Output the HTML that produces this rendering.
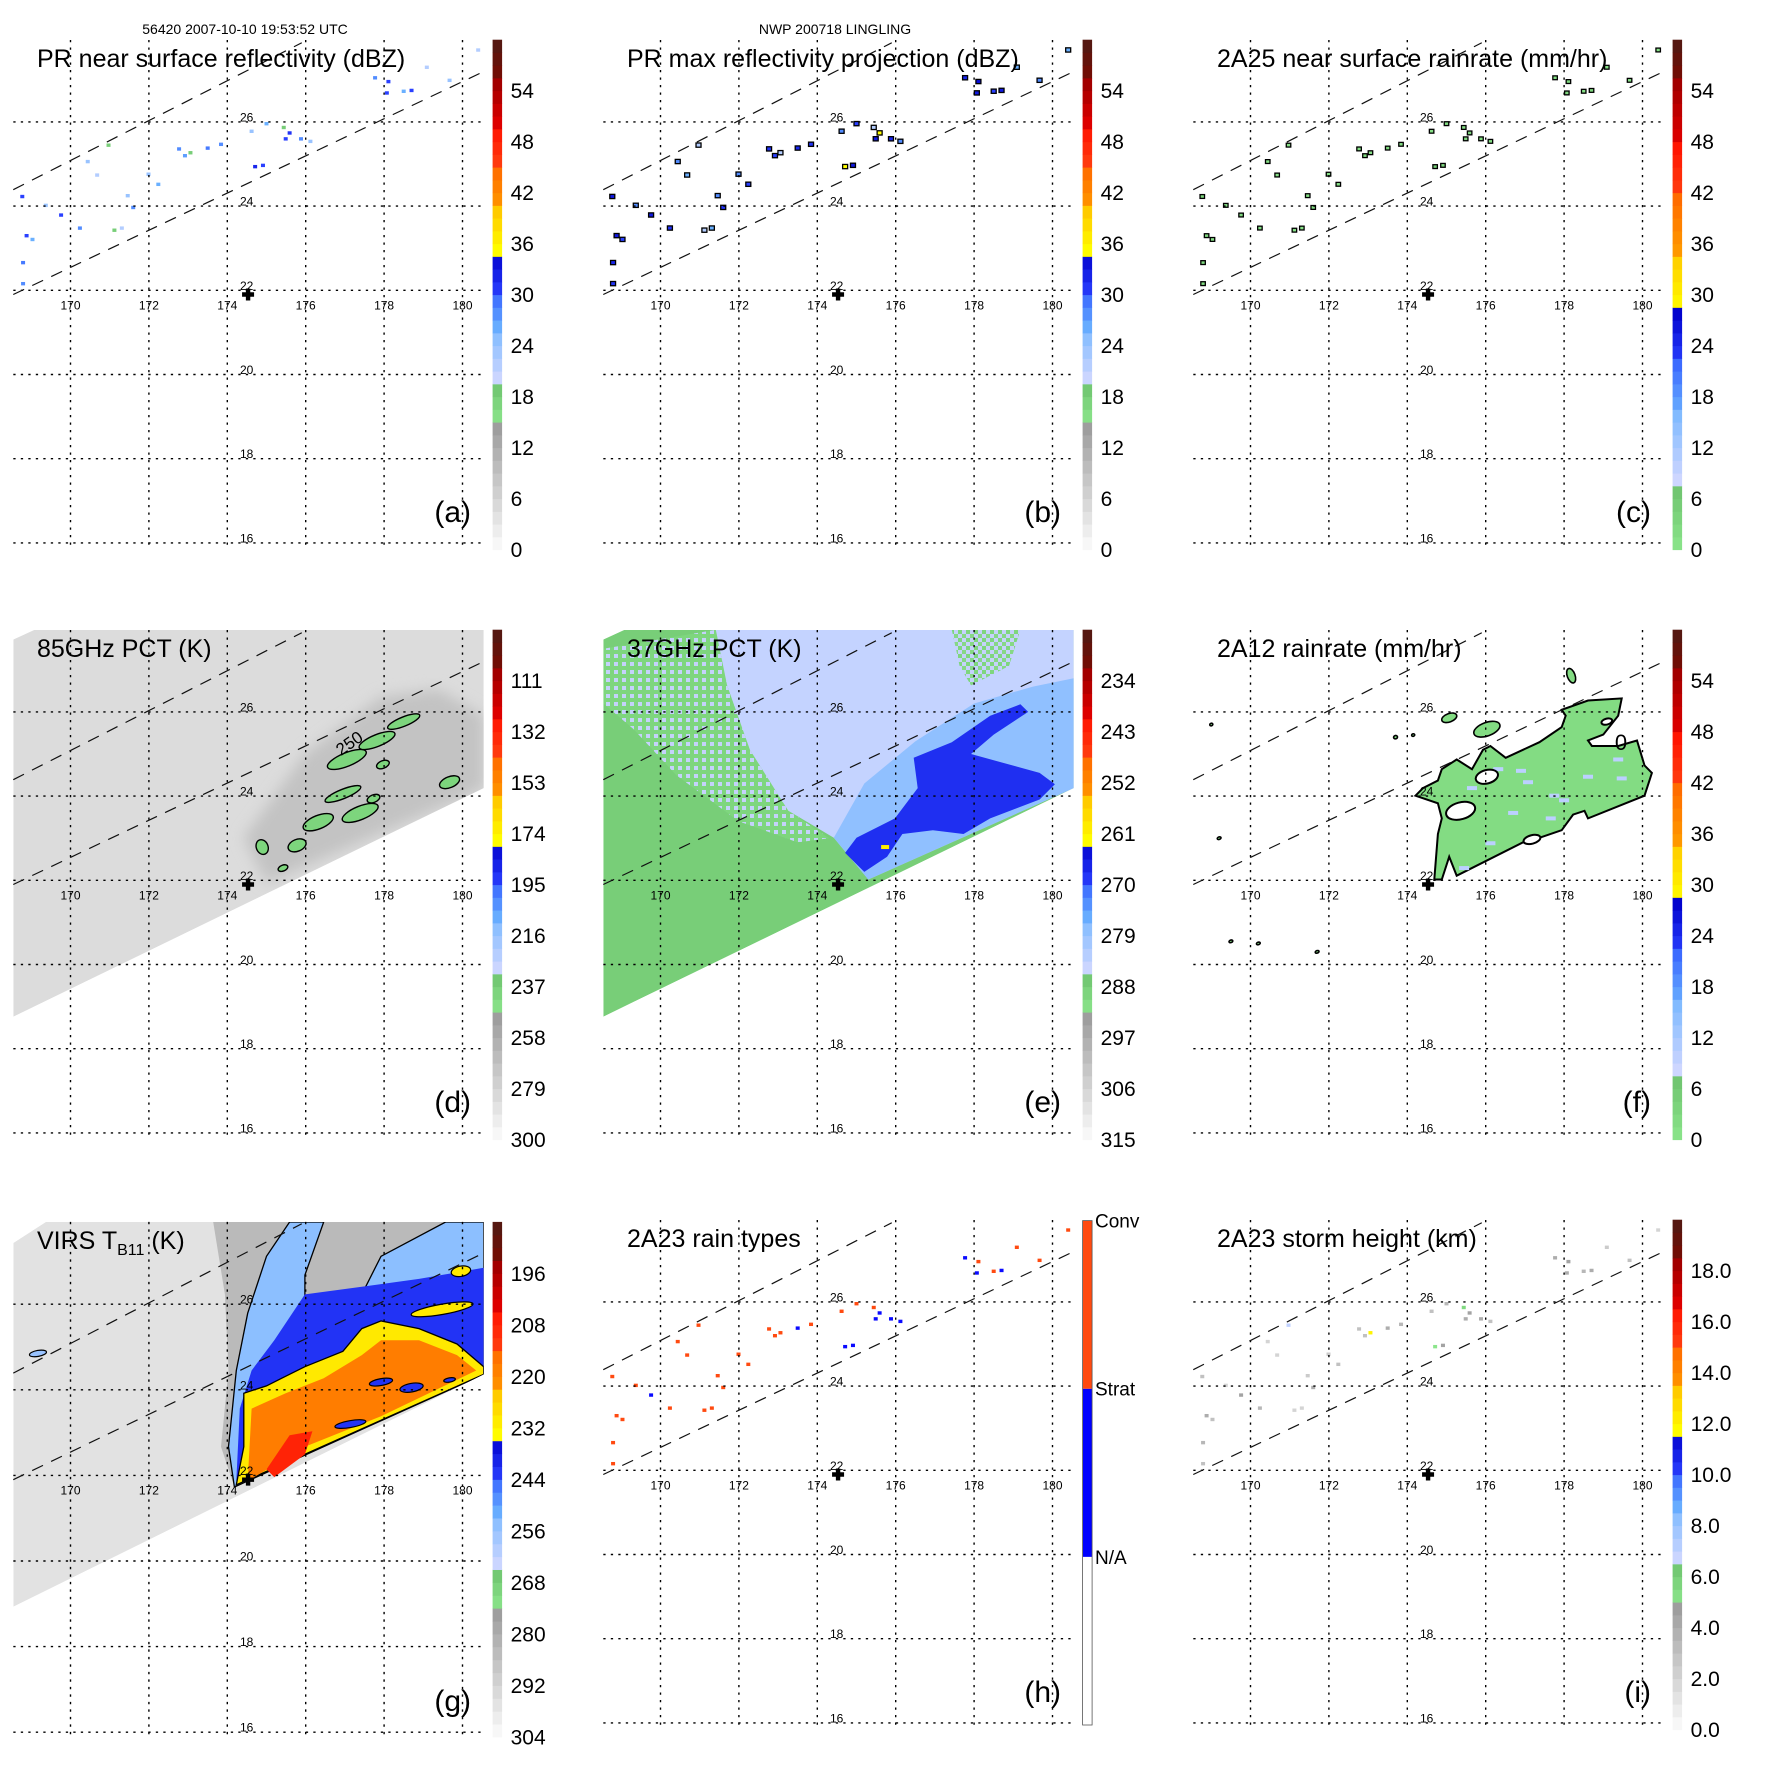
<!DOCTYPE html>
<html><head><meta charset="utf-8">
<style>
html,body{margin:0;padding:0;background:#fff;}
svg{display:block;font-family:"Liberation Sans",Arial,sans-serif;}
</style></head>
<body>
<svg id="fig" xmlns="http://www.w3.org/2000/svg" width="1771" height="1771" viewBox="0 0 1771 1771">
<defs>
<pattern id="mixE" width="8" height="8" patternUnits="userSpaceOnUse">
<rect width="8" height="8" fill="#c4d2fb"/><rect width="4" height="4" fill="#7ed67e"/><rect x="4" y="4" width="4" height="4" fill="#86d886"/>
</pattern>
<pattern id="mixE2" width="8" height="8" patternUnits="userSpaceOnUse">
<rect width="8" height="8" fill="#7ed67e"/><rect width="4" height="4" fill="#c4d2fb"/>
</pattern>
<filter id="soft"><feGaussianBlur stdDeviation="7"/></filter>
</defs>
</svg>
<script>
// ---------------- data ----------------
const ptLon = [177.77,178.11,178.07,178.50,178.70,179.67,179.09,180.40,175.00,174.62,175.59,175.88,176.12,175.49,174.71,174.91,173.50,173.84,172.77,172.92,173.06,172.24,171.99,171.60,169.76,170.24,168.88,169.03,168.77,168.79,168.79,170.44,171.46,170.68,169.37,171.12,171.31,175.44,170.97];
const ptLat = [27.04,26.95,26.68,26.72,26.74,26.98,27.29,27.70,25.95,25.77,25.73,25.59,25.53,25.59,24.93,24.96,25.37,25.46,25.35,25.19,25.26,24.51,24.75,23.96,23.78,23.47,23.29,23.20,24.22,22.65,22.15,25.05,24.24,24.73,24.01,23.42,23.47,25.86,25.44];
const reflNear = [28,30,30,26,30,24,22,22,26,24,31,28,24,30,32,30,29,28,28,27,18,26,24,28,30,28,30,26,30,29,28,24,24,22,24,18,22,18,18];
const reflMax = [32,34,33,30,33,28,26,26,30,28,35,32,28,33,35,33,32,31,31,30,22,30,28,31,33,31,33,30,33,32,31,28,28,26,28,22,26,22,22];
const rainPR = [2,3,3,1,3,1,1,1,2,1,4,2,1,3,5,3,3,2,2,2,1,1,1,2,3,2,3,1,3,3,2,1,1,1,1,1,1,1,1];
const rainType = [1,2,1,2,1,2,2,2,2,2,1,1,1,1,1,1,1,2,2,2,2,2,2,2,1,2,2,2,2,2,2,2,2,2,2,2,2,2,2];
const stormHt = [4,4.5,4,3.5,4,3,2.5,2,3.5,3,4.5,4,3,4,5,4.5,4,3.5,3,3,12,3,2.5,4,4.5,3.5,4,3,3,3.5,3,2,2.5,2,2,2,2,5.5,7];

const centerLon = 174.53, centerLat = 21.9;
const prEdgeUpper = [[168.54,24.39],[175.9,27.88]];
const prEdgeLower = [[168.54,21.9],[180.55,27.2]];
const gridLons = [170,172,174,176,178,180];
const gridLats = [26,24,22,20,18,16];

// TMI swath
const tmiSwath = [[168.54,27.72],[169.08,27.95],[180.54,27.95],[180.54,24.19],[168.54,18.76]];
// 85 GHz
const pct85Base = 283, pct85Core = 270, pct85Blob = 240;
const pct85CoreArea = [[174.42,23.01],[175.98,25.0],[177.92,26.36],[179.38,26.54],[180.54,25.91],[180.54,24.19],[175.0,21.93]];
const blobLon = [177.05,177.82,178.50,177.97,179.67,176.95,177.73,177.39,176.32,175.78,174.89,175.42];
const blobLat = [24.87,25.32,25.77,24.75,24.33,24.05,23.94,23.60,23.38,22.83,22.79,22.29];
const blobRx = [.53,.49,.44,.17,.27,.49,.17,.49,.41,.24,.15,.13];
const blobRy = [.16,.14,.11,.09,.13,.11,.09,.16,.16,.14,.18,.07];
// 37 GHz
const pct37Vals = [288, 284, 278, 268, 258];
const e_mixed = [[168.54,27.5],[171.41,27.95],[171.70,26.63],[172.28,25.10],[173.26,23.65],[174.3,23.0],[173.5,22.9],[172.0,23.4],[170.4,24.5],[169.3,25.6],[168.54,26.2]];
const e_light = [[171.41,27.95],[171.70,26.63],[172.28,25.10],[173.26,23.65],[174.42,23.01],[175.30,22.02],[180.54,24.19],[180.54,27.95]];
const e_mixed2 = [[177.43,27.95],[179.18,27.95],[178.89,27.09],[177.92,26.63],[177.63,27.09]];
const e_medium = [[174.42,23.01],[175.2,24.3],[176.5,25.3],[178.0,26.2],[179.5,26.6],[180.54,26.8],[180.54,24.19],[175.30,22.02]];
const e_dark = [[176.46,24.91],[177.43,25.28],[178.41,25.91],[179.18,26.18],[179.38,26.0],[178.50,25.46],[177.92,25.0],[179.67,24.55],[180.06,24.28],[179.67,23.92],[178.41,23.47],[177.73,23.10],[176.95,23.19],[176.17,23.10],[175.78,22.56],[175.20,22.20],[174.71,22.65],[175.00,23.01],[175.98,23.47],[176.56,24.19]];
const e_hot = [175.73,22.79];
// 2A12
const f_area = [[174.69,22.02],[174.78,23.10],[174.88,23.47],[174.78,23.83],[174.21,24.01],[174.40,24.19],[174.78,24.37],[174.88,24.64],[175.26,24.87],[175.65,24.64],[175.93,25.10],[176.12,25.19],[176.51,24.91],[177.37,25.28],[177.94,25.64],[178.04,25.91],[177.94,26.05],[178.61,26.27],[179.47,26.32],[179.38,25.91],[179.00,25.46],[178.61,25.32],[178.71,25.19],[179.38,25.19],[179.86,25.32],[180.05,24.73],[180.24,24.55],[180.05,24.01],[178.61,23.47],[178.52,23.65],[178.23,23.56],[177.94,23.19],[177.37,23.01],[176.99,22.92],[175.26,22.11],[175.07,22.56],[174.88,22.02]];
const f_holeLon = [176.03,175.36,179.09,177.18];
const f_holeLat = [24.46,23.65,25.77,22.97];
const f_holeRx = [.29,.38,.14,.22];
const f_holeRy = [.16,.2,.07,.1];
const f_isleLon = [175.07,176.03,178.18,169.0,173.7,174.15,169.2,170.2,171.7,169.5];
const f_isleLat = [25.86,25.59,26.86,25.7,25.4,25.45,23.0,20.5,20.3,20.55];
const f_isleRx = [.2,.35,.1,.04,.05,.04,.05,.05,.05,.05];
const f_isleRy = [.1,.16,.18,.03,.04,.03,.03,.03,.03,.03];
const f_rainBase = 2, f_rainSpot = 10;
const f_spotLon = [175.65,176.32,177.08,177.75,176.70,176.12,175.45,179.38,178.61,179.47,177.66,176.9,178.0];
const f_spotLat = [24.19,24.64,24.33,24.01,23.60,22.88,22.29,24.87,24.46,24.42,23.47,24.6,23.9];
// VIRS
const virsSwath = [[168.54,27.43],[169.37,27.92],[180.54,27.92],[180.54,24.36],[168.54,18.93]];
const virsVals = [296, 284, 254, 242, 230, 218, 208];
const g_cloud = [[173.64,27.92],[180.54,27.92],[180.54,24.36],[174.18,21.73],[173.84,22.67],[174.03,24.45],[173.94,26.23]];
const g_edge = [[174.23,24.45],[174.52,25.79],[175.0,27.12],[175.59,27.92],[176.46,27.92],[175.98,26.68],[175.98,25.88],[177.43,26.23],[177.92,27.12],[179.57,27.92],[180.54,27.92],[180.54,24.36],[174.18,21.73],[174.03,22.67]];
const g_blue = [[174.32,23.56],[174.62,24.45],[175.20,25.16],[175.98,26.23],[177.43,26.41],[178.89,26.59],[180.54,26.85],[180.54,24.36],[174.23,21.87]];
const g_yellow = [[174.42,23.92],[175.00,24.09],[175.39,24.27],[175.98,24.54],[176.95,24.90],[177.43,25.43],[177.92,25.61],[178.89,25.43],[179.86,25.07],[180.54,24.54],[180.54,24.36],[174.23,21.78],[174.42,22.67]];
const g_orange = [[174.62,23.56],[175.49,23.92],[176.46,24.27],[177.43,24.81],[177.92,25.16],[178.89,25.16],[179.86,24.81],[180.35,24.45],[177.92,23.38],[175.98,22.67],[174.52,21.87]];
const g_red = [[175.00,22.14],[175.59,22.94],[176.17,23.03],[175.98,22.49],[175.20,21.96]];
const g_spotLon = [177.92,178.70,177.14,179.67,179.48,179.96,169.17];
const g_spotLat = [24.18,24.05,23.20,24.23,25.88,26.77,24.85];
const g_spotVal = [242,242,242,242,230,230,256];
const g_spotRx = [.3,.3,.4,.15,.8,.25,.22];
const g_spotRy = [.08,.1,.08,.05,.12,.12,.07];

// colorbar labels
const lblA = ["0","6","12","18","24","30","36","42","48","54"];
const lblD = ["300","279","258","237","216","195","174","153","132","111"];
const lblE = ["315","306","297","288","279","270","261","252","243","234"];
const lblG = ["304","292","280","268","256","244","232","220","208","196"];
const lblI = ["0.0","2.0","4.0","6.0","8.0","10.0","12.0","14.0","16.0","18.0"];
const typeLabels = ["N/A","Strat","Conv"];

// ---------------- palettes ----------------
const PAL_A = [[0,15,'#fcfcfc','#999999'],[15,20,'#8be58b','#6bbf6b'],[20,26,'#cdd6ff','#7fbaff'],[26,30,'#6ab0ff','#3a68ff'],[30,35,'#2a40ff','#0000cc'],[35,40,'#ffff00','#ffc800'],[40,45,'#ff9a00','#ff6a00'],[45,50,'#ff4010','#ff1000'],[50,55,'#e00000','#a00000'],[55,60,'#7a0a00','#501a14']];
const PAL_C = [[0,8.2,'#8be58b','#6bbf6b'],[8.2,16,'#cdd6ff','#7fbaff'],[16,22,'#6ab0ff','#3a68ff'],[22,28,'#2a40ff','#0000cc'],[28,35,'#ffff00','#ffc800'],[35,41.5,'#ff9a00','#ff6a00'],[41.5,48,'#ff4010','#ff1000'],[48,55,'#e00000','#a00000'],[55,60,'#7a0a00','#501a14']];
function hx(c){return [parseInt(c.substr(1,2),16),parseInt(c.substr(3,2),16),parseInt(c.substr(5,2),16)];}
function pal(P,u){
  u=Math.max(0,Math.min(59.99,u));
  for(const s of P){ if(u>=s[0]&&u<s[1]){const t=(u-s[0])/(s[1]-s[0]);const a=hx(s[2]),b=hx(s[3]);
    return 'rgb('+a.map((v,i)=>Math.round(v+(b[i]-v)*t)).join(',')+')';}}
  return '#fff';
}
const uD=v=>(300-v)*6/21, uE=v=>(315-v)*6/9, uG=v=>(304-v)/2;

// ---------------- helpers ----------------
const NS='http://www.w3.org/2000/svg';
const svg=document.getElementById('fig');
function mk(tag,attrs,parent){const e=document.createElementNS(NS,tag);for(const k in attrs)e.setAttribute(k,attrs[k]);parent.appendChild(e);return e;}

const GEO={x170:70.5,px:39.2,y26:121.9,py:42.1,mapL:13.3,mapR:484,mapT:40,cbX:492.6,cbW:9.5,cbTop:39.7,cbZero:549.7};
const GEO_G={x170:70.5,px:39.2,y26:124.2,py:42.8,mapL:13.3,mapR:484,mapT:41.9,cbX:492.6,cbW:9.5,cbTop:41.9,cbZero:557};

function makePanel(key,col,row,geo){
  const g=mk('g',{transform:'translate('+(col*590)+','+(row*590)+')'},svg);
  
  
  const X=lon=>geo.x170+(lon-170)*geo.px, Y=lat=>geo.y26-(lat-26)*geo.py;
  const clip=mk('clipPath',{id:'clip-'+key},g);
  mk('rect',{x:geo.mapL,y:geo.mapT,width:geo.mapR-geo.mapL,height:Y(16)-geo.mapT+6},clip);
  const field=mk('g',{'clip-path':'url(#clip-'+key+')'},g);
  
  
  return {g,field,X,Y,geo,key};
}
function poly(P,arr,attrs,parent){
  const pts=arr.map(p=>P.X(p[0]).toFixed(1)+','+P.Y(p[1]).toFixed(1)).join(' ');
  const e=mk('polygon',Object.assign({points:pts},attrs),parent);
  return e;
}
function overlay(P,title,letter,sub){
  const {g,X,Y,geo}=P;
  const yb=Y(16)+4;
  gridLons.forEach(l=>{
    const e=mk('line',{x1:X(l),x2:X(l),y1:geo.mapT,y2:yb,stroke:'#000','stroke-width':1.4,'stroke-dasharray':'2.3,5.2'},g);
    
    
  });
  gridLats.forEach(l=>{
    const e=mk('line',{x1:geo.mapL,x2:geo.mapR,y1:Y(l),y2:Y(l),stroke:'#000','stroke-width':1.4,'stroke-dasharray':'2.3,5.2'},g);
    
    
  });
  [prEdgeUpper,prEdgeLower].forEach((L,i)=>{
    const e=mk('line',{x1:X(L[0][0]),y1:Y(L[0][1]),x2:X(L[1][0]),y2:Y(L[1][1]),stroke:'#111','stroke-width':1.2,'stroke-dasharray':'12,9'},g);
    
    
  });
  gridLons.forEach(l=>{
    const t=mk('text',{x:X(l),y:Y(22)+19,'font-size':12,'text-anchor':'middle'},g);t.textContent=String(l);
    
    
  });
  gridLats.forEach(l=>{
    const t=mk('text',{x:240,y:Y(l)-0.5,'font-size':12},g);t.textContent=String(l);
    
    
  });
  const cx=X(centerLon),cy=Y(centerLat);
  const cr=mk('path',{d:'M'+(cx-6)+','+(cy-2.2)+'h12v4.4h-12zM'+(cx-2.2)+','+(cy-6)+'h4.4v12h-4.4z',fill:'#000'},g);
  
  
  const t=mk('text',{x:37,y:geo.mapT+27,'font-size':25},g);
  
  
  if(sub){t.appendChild(document.createTextNode(title));const ts=mk('tspan',{'font-size':16,dy:6},t);ts.textContent=sub;const t2=mk('tspan',{dy:-6},t);t2.textContent=' (K)';}
  else t.textContent=title;
  const lt=mk('text',{x:471,y:Y(16)-21,'font-size':30,'text-anchor':'end'},g);lt.textContent='('+letter+')';
  
  
}
function colorbar(P,PAL,labels){
  const {g,geo}=P;
  const cb=mk('g',{},g);
  
  
  const step=(geo.cbZero-geo.cbTop)/60;
  for(let i=0;i<40;i++){
    const u0=i*1.5,u1=u0+1.5;
    mk('rect',{x:geo.cbX,y:(geo.cbZero-u1*step).toFixed(2),width:geo.cbW,height:(1.5*step+0.4).toFixed(2),fill:pal(PAL,u0+0.75)},cb);
  }
  labels.forEach((s,i)=>{
    const y=geo.cbZero-i*6*step;
    const t=mk('text',{x:geo.cbX+18,y:y+7.5,'font-size':21},cb);t.textContent=s;
    
    
  });
}
function points(P,fillFn,stroke,sz){
  ptLon.forEach((lon,i)=>{
    const r=mk('rect',{x:P.X(lon)-sz/2,y:P.Y(ptLat[i])-sz/2,width:sz,height:sz*0.85,fill:fillFn(i)},P.field);
    if(stroke){r.setAttribute('stroke','#000');r.setAttribute('stroke-width',stroke);}
    
    
  });
}
function ellipses(P,lons,lats,rxs,rys,attrsFn,rot){
  lons.forEach((lon,i)=>{
    const cx=P.X(lon),cy=P.Y(lats[i]);
    const e=mk('ellipse',Object.assign({cx:cx,cy:cy,rx:rxs[i]*P.geo.px,ry:rys[i]*P.geo.py,transform:'rotate('+(rot||0)+' '+cx+' '+cy+')'},attrsFn(i)),P.field);
    
    
  });
}

// header texts
const h1=mk('text',{x:245,y:34,'font-size':14,'text-anchor':'middle'},svg);h1.textContent='56420 2007-10-10 19:53:52 UTC';


const h2=mk('text',{x:835,y:34,'font-size':14,'text-anchor':'middle'},svg);h2.textContent='NWP 200718 LINGLING';



// (a)
let P=makePanel('a',0,0,GEO);
points(P,i=>pal(PAL_A,reflNear[i]),0,4);
overlay(P,'PR near surface reflectivity (dBZ)','a');colorbar(P,PAL_A,lblA);
// (b)
P=makePanel('b',1,0,GEO);
points(P,i=>pal(PAL_A,reflMax[i]),1.3,5);
overlay(P,'PR max reflectivity projection (dBZ)','b');colorbar(P,PAL_A,lblA);
// (c)
P=makePanel('c',2,0,GEO);
points(P,i=>pal(PAL_C,rainPR[i]),1.3,4.5);
overlay(P,'2A25 near surface rainrate (mm/hr)','c');colorbar(P,PAL_C,lblA);
// (d)
P=makePanel('d',0,1,GEO);
{
  const cp=mk('clipPath',{id:'sw-d'},P.g);poly(P,tmiSwath,{},cp);
  const f=mk('g',{'clip-path':'url(#sw-d)'},P.field);
  const s=poly(P,tmiSwath,{fill:pal(PAL_A,uD(pct85Base))},f);
  
  
  const c=poly(P,pct85CoreArea,{fill:pal(PAL_A,uD(pct85Core)),filter:'url(#soft)'},f);
  
  
  ellipses(P,blobLon,blobLat,blobRx,blobRy,i=>({fill:pal(PAL_A,uD(pct85Blob)),stroke:'#000','stroke-width':1.4}),-22);
  const t=mk('text',{x:P.X(176.9),y:P.Y(24.95),'font-size':17,transform:'rotate(-35 '+P.X(176.9)+' '+P.Y(24.95)+')'},P.field);t.textContent='250';
  
  
}
overlay(P,'85GHz PCT (K)','d');colorbar(P,PAL_A,lblD);
// (e)
P=makePanel('e',1,1,GEO);
{
  const cp=mk('clipPath',{id:'sw-e'},P.g);poly(P,tmiSwath,{},cp);
  const f=mk('g',{'clip-path':'url(#sw-e)'},P.field);
  const s=poly(P,tmiSwath,{fill:pal(PAL_A,uE(pct37Vals[0]))},f);
  
  
  const m=poly(P,e_mixed,{fill:'url(#mixE2)'},f);
  
  
  const l=poly(P,e_light,{fill:pal(PAL_A,uE(pct37Vals[1]))},f);
  
  
  const m2=poly(P,e_mixed2,{fill:'url(#mixE)'},f);
  
  
  const md=poly(P,e_medium,{fill:pal(PAL_A,uE(pct37Vals[2]))},f);
  
  
  const dk=poly(P,e_dark,{fill:pal(PAL_A,uE(pct37Vals[3]))},f);
  
  
  const hp=mk('rect',{x:P.X(e_hot[0])-4,y:P.Y(e_hot[1])-2,width:8,height:4,fill:'#ffee00'},f);
  
  
}
overlay(P,'37GHz PCT (K)','e');colorbar(P,PAL_A,lblE);
// (f)
P=makePanel('f',2,1,GEO);
{
  const a=poly(P,f_area,{fill:pal(PAL_C,f_rainBase),stroke:'#000','stroke-width':2},P.field);
  
  
  f_spotLon.forEach((lon,i)=>{
    const r=mk('rect',{x:P.X(lon)-5,y:P.Y(f_spotLat[i])-2,width:10,height:4,fill:pal(PAL_C,f_rainSpot)},P.field);
    
    
  });
  ellipses(P,f_holeLon,f_holeLat,f_holeRx,f_holeRy,i=>({fill:'#fff',stroke:'#000','stroke-width':2}),-15);
  ellipses(P,f_isleLon,f_isleLat,f_isleRx,f_isleRy,i=>({fill:pal(PAL_C,f_rainBase),stroke:'#000','stroke-width':1.6}),-20);
  const t=mk('text',{x:P.X(179.45),y:P.Y(25.1),'font-size':22,'text-anchor':'middle'},P.field);t.textContent='0';
  
  
}
overlay(P,'2A12 rainrate (mm/hr)','f');colorbar(P,PAL_C,lblA);
// (g)
P=makePanel('g',0,2,GEO_G);
{
  const cp=mk('clipPath',{id:'sw-g'},P.g);poly(P,virsSwath,{},cp);
  const f=mk('g',{'clip-path':'url(#sw-g)'},P.field);
  const names=['virs-swath','cold-cloud','cloud-edge','anvil','cold-top','colder-top','coldest-top'];
  const polys=[virsSwath,g_cloud,g_edge,g_blue,g_yellow,g_orange,g_red];
  polys.forEach((pp,i)=>{
    const at={fill:pal(PAL_A,uG(virsVals[i]))};
    if(i==2||i==4){at.stroke='#000';at['stroke-width']=1.3;}
    const e=poly(P,pp,at,f);
    
    
  });
  ellipses(P,g_spotLon,g_spotLat,g_spotRx,g_spotRy,i=>({fill:pal(PAL_A,uG(g_spotVal[i])),stroke:'#000','stroke-width':1.2}),-10);
}
overlay(P,'VIRS T','g','B11');colorbar(P,PAL_A,lblG);
// (h)
P=makePanel('h',1,2,GEO);
points(P,i=>rainType[i]==2?'#ff4a10':'#0a0aff',0,4);
overlay(P,'2A23 rain types','h');
{
  const cb=mk('g',{},P.g);
  
  
  const top=40.6,bot=545,seg=(bot-top)/3;
  const cols=['#ffffff','#0000ff','#ff4a10'];
  cols.forEach((c,i)=>{
    mk('rect',{x:492.6,y:bot-(i+1)*seg,width:9.5,height:seg,fill:c},cb);
    const t=mk('text',{x:505,y:bot-(i+1)*seg+7,'font-size':19},cb);t.textContent=typeLabels[i];
    
    
  });
  mk('rect',{x:492.6,y:top,width:9.5,height:bot-top,fill:'none',stroke:'#555','stroke-width':0.8},cb);
}
// (i)
P=makePanel('i',2,2,GEO);
points(P,i=>pal(PAL_A,stormHt[i]*3),0,4);
overlay(P,'2A23 storm height (km)','i');colorbar(P,PAL_A,lblI);
</script>
</body></html>
